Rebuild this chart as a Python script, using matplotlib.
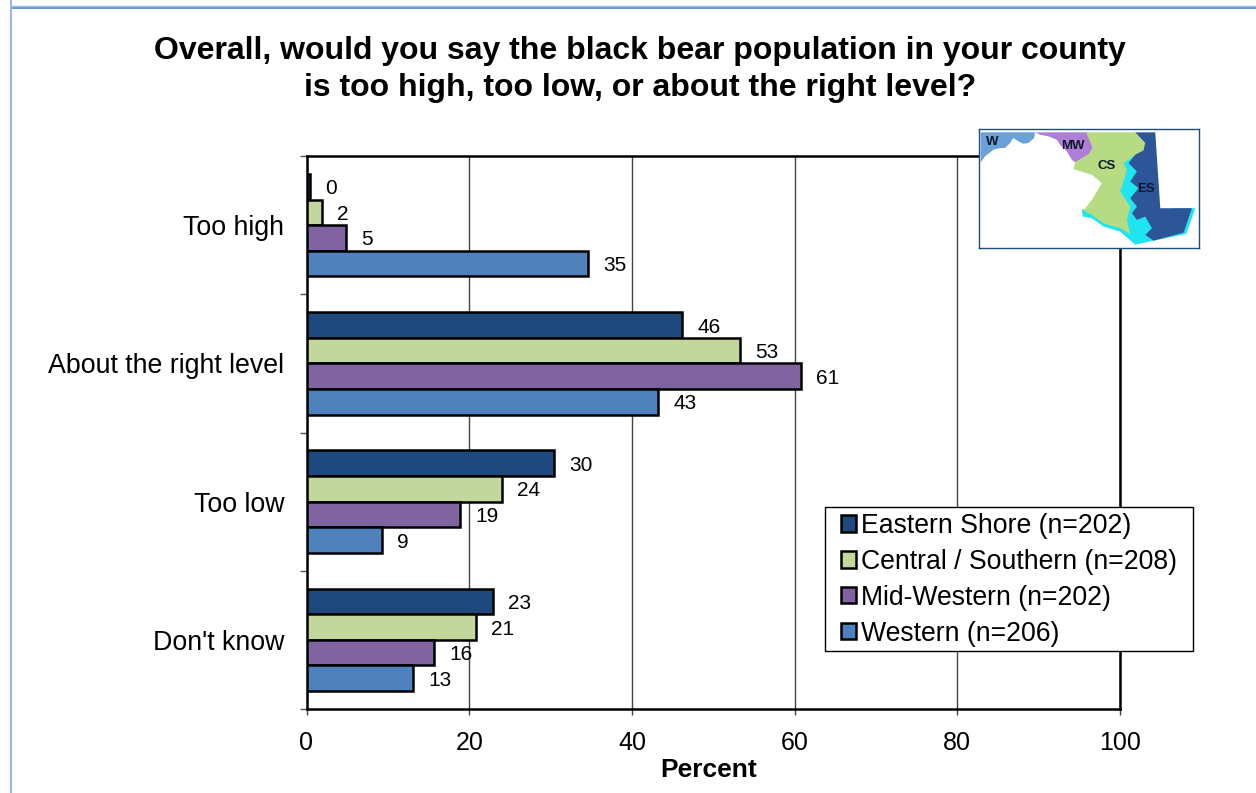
import matplotlib
matplotlib.use("Agg")
import matplotlib.pyplot as plt
from matplotlib.lines import Line2D
from matplotlib.patches import Patch, Polygon, Rectangle

plt.rcParams['font.family'] = ['Liberation Sans', 'DejaVu Sans']

# Survey results, percent of respondents by region
categories = ["Too high", "About the right level", "Too low", "Don't know"]
eastern_shore = [0.4, 46.2, 30.4, 22.9]
central_southern = [1.9, 53.3, 24.0, 20.8]
mid_western = [4.9, 60.8, 18.9, 15.7]
western = [34.6, 43.2, 9.3, 13.1]

series_names = ["Eastern Shore (n=202)", "Central / Southern (n=208)",
                "Mid-Western (n=202)", "Western (n=206)"]
series_colors = ["#1F497D", "#C3D69B", "#8064A2", "#4F81BD"]
x_ticks = [0, 20, 40, 60, 80, 100]

# Outlines of the regional locator map, in map units
map_water = [(555, 70), (520, 105), (478, 135), (488, 175), (472, 220), (498, 265),
             (492, 298), (430, 300), (395, 272), (365, 268), (368, 290), (395, 295),
             (430, 320), (480, 335), (525, 374), (580, 362), (678, 342), (705, 265),
             (640, 265), (600, 300), (560, 200)]
map_western = [(62, 38), (225, 38), (222, 55), (205, 70), (190, 72), (175, 65), (160, 55),
               (150, 70), (135, 85), (120, 85), (100, 90), (75, 110), (62, 128)]
map_mid_western = [(225, 38), (385, 38), (398, 85), (385, 105), (345, 128), (335, 120),
                   (320, 95), (300, 75), (290, 60), (265, 50), (240, 45)]
map_central = [(378, 38), (525, 38), (555, 70), (550, 95), (520, 110), (490, 130), (500, 150),
               (490, 185), (480, 215), (510, 260), (500, 300), (510, 342), (480, 325),
               (430, 310), (395, 285), (370, 272), (395, 240), (425, 190), (395, 165),
               (340, 148), (345, 128), (385, 105), (398, 85)]
map_eastern = [(525, 38), (585, 38), (600, 265), (695, 265), (670, 338), (580, 362),
               (555, 345), (575, 325), (555, 290), (530, 300), (515, 280), (530, 260),
               (510, 235), (535, 205), (510, 185), (530, 155), (505, 130), (525, 105),
               (550, 92), (555, 70)]
map_labels = [("W", 98, 68), ("MW", 338, 78), ("CS", 440, 140), ("ES", 558, 207)]

fig = plt.figure(figsize=(12.56, 7.93), dpi=100)
W, H = 1256, 793


def to_fig(x0, y0, x1, y1):
    return [x0 / W, 1 - y1 / H, (x1 - x0) / W, (y1 - y0) / H]


# Page rules around the chart
fig.add_artist(Line2D([11 / W, 1], [1 - 8 / H] * 2, color="#5B8BC9", lw=1.3))
fig.add_artist(Line2D([11 / W, 1], [1 - 6 / H] * 2, color="#9DB8DE", lw=1))
fig.add_artist(Line2D([11 / W, 11 / W], [0, 1], color="#9DB8DE", lw=1.5))

ax = fig.add_axes(to_fig(306.5, 156, 1120, 709))

all_series = [eastern_shore, central_southern, mid_western, western]
bar_h = 0.185
for i, (vals, name, color) in enumerate(zip(all_series, series_names, series_colors)):
    ypos = [c + (i - 1.5) * bar_h for c in range(len(categories))]
    ax.barh(ypos, vals, height=bar_h, color=color, edgecolor="black", linewidth=1.8, zorder=3)
    for y, v in zip(ypos, vals):
        ax.annotate(str(round(v)), (v, y), xytext=(11, -1.5), textcoords="offset points",
                    va="center", ha="left", fontsize=15, zorder=4)

ax.set_xlim(0, 100)
ax.set_ylim(len(categories) - 0.5, -0.5)
ax.set_xticks(x_ticks)
ax.tick_params(axis="x", length=4, width=1, color="#444444", labelsize=18, pad=12)
ax.set_yticks(range(len(categories)))
ax.set_yticklabels(categories)
ax.tick_params(axis="y", which="major", length=0, labelsize=19.3, pad=16)
ax.set_yticks([c - 0.5 for c in range(len(categories) + 1)], minor=True)
ax.tick_params(axis="y", which="minor", length=5, width=1, color="#555555")
ax.grid(axis="x", color="#444444", lw=1, zorder=0)
for side in ax.spines.values():
    side.set_linewidth(1.8)
ax.set_axisbelow(True)

fig.text(709 / W, 1 - 770 / H, "Percent", fontsize=19, fontweight="bold", ha="center", va="center")
fig.text(640 / W, 1 - 51 / H, "Overall, would you say the black bear population in your county",
         fontsize=23, fontweight="bold", ha="center", va="center")
fig.text(640 / W, 1 - 88 / H, "is too high, too low, or about the right level?",
         fontsize=23, fontweight="bold", ha="center", va="center")

# Legend box, bottom right of the plot
ax.add_patch(Rectangle((825 / W, 1 - 651 / H), 368 / W, 144 / H, transform=fig.transFigure,
                       facecolor="white", edgecolor="black", lw=1, zorder=5, clip_on=False))
handles = [Patch(facecolor=c, edgecolor="black", linewidth=1.8) for c in series_colors]
leg = ax.legend(handles, series_names, loc="upper left", fontsize=19.15,
                bbox_to_anchor=(841 / W, 1 - 513 / H), bbox_transform=fig.transFigure,
                frameon=False, handlelength=0.56, handleheight=0.56, handletextpad=0.18,
                labelspacing=0.37, borderpad=0, borderaxespad=0)
leg.set_zorder(6)

# Regional locator map, over the top right corner
mp = fig.add_axes(to_fig(979, 129, 1199, 248), zorder=5)
mp.set_xlim(57, 716)
mp.set_ylim(384, 28)
mp.set_xticks([])
mp.set_yticks([])
for side in mp.spines.values():
    side.set_linewidth(1)
    side.set_color("#1F4E79")
mp.add_patch(Polygon(map_water, color="#1FE5F0", lw=0))
mp.add_patch(Polygon(map_western, color="#6CA0D8", lw=0))
mp.add_patch(Polygon(map_mid_western, color="#AE7FD6", lw=0))
mp.add_patch(Polygon(map_central, color="#B7DB82", lw=0))
mp.add_patch(Polygon(map_eastern, color="#2D5597", lw=0))
for label, lx, ly in map_labels:
    mp.text(lx, ly, label, fontsize=9.5, fontweight="bold", ha="center", va="center", color="#101828")

fig.savefig("out.png", dpi=100)
